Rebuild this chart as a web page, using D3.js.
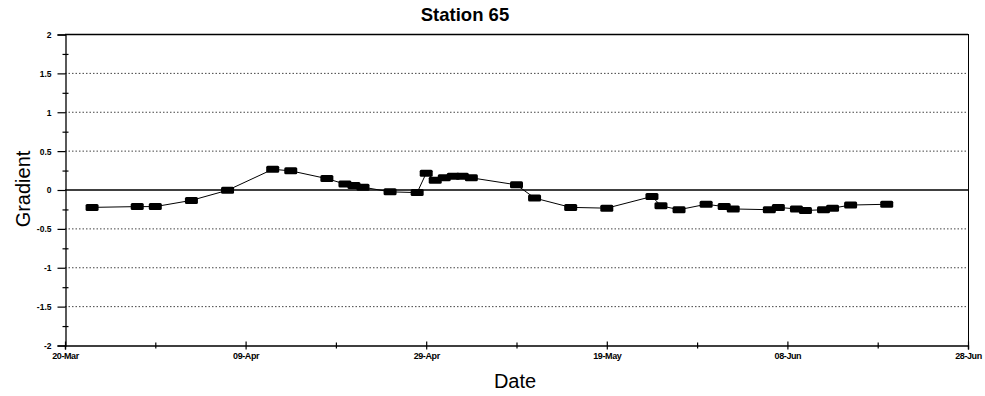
<!DOCTYPE html>
<html>
<head>
<meta charset="utf-8">
<script src="https://cdn.jsdelivr.net/npm/d3@7"></script>
<style>
  html, body { margin: 0; padding: 0; background: #fff; }
  svg { display: block; }
  text { font-family: "Liberation Sans", Arial, sans-serif; fill: #000; }
</style>
</head>
<body>
<svg id="chart" width="985" height="396"></svg>
<script>
// Gradient readings for Station 65 (sample date, gradient)
const sampleDates = [
  "2000-03-23", "2000-03-28", "2000-03-30", "2000-04-03", "2000-04-07",
  "2000-04-12", "2000-04-14", "2000-04-18", "2000-04-20", "2000-04-21",
  "2000-04-22", "2000-04-25", "2000-04-28", "2000-04-29", "2000-04-30",
  "2000-05-01", "2000-05-02", "2000-05-03", "2000-05-04", "2000-05-09",
  "2000-05-11", "2000-05-15", "2000-05-19", "2000-05-24", "2000-05-25",
  "2000-05-27", "2000-05-30", "2000-06-01", "2000-06-02", "2000-06-06",
  "2000-06-07", "2000-06-09", "2000-06-10", "2000-06-12", "2000-06-13",
  "2000-06-15", "2000-06-19"
];
const gradientValues = [
  -0.23, -0.22, -0.22, -0.14, -0.01,
   0.26,  0.24,  0.14,  0.07,  0.05,
   0.03, -0.03, -0.04,  0.21,  0.12,
   0.15,  0.17,  0.17,  0.15,  0.06,
  -0.11, -0.23, -0.24, -0.09, -0.21,
  -0.26, -0.19, -0.22, -0.25, -0.26,
  -0.23, -0.25, -0.27, -0.26, -0.24,
  -0.20, -0.19
];
const xTickDates = ["2000-03-20", "2000-04-09", "2000-04-29", "2000-05-19", "2000-06-08", "2000-06-28"];
const xMinorDates = ["2000-03-30", "2000-04-19", "2000-05-09", "2000-05-29", "2000-06-18"];
const yTickValues = [-2, -1.5, -1, -0.5, 0, 0.5, 1, 1.5, 2];
const yMinorValues = [-1.75, -1.25, -0.75, -0.25, 0.25, 0.75, 1.25, 1.75];

const parse = d3.utcParse("%Y-%m-%d");
const data = sampleDates.map((d, i) => ({ date: parse(d), value: gradientValues[i] }));

const svg = d3.select("#chart");
const plotLeft = 65, plotRight = 968, plotTop = 34, plotBottom = 345;

const x = d3.scaleUtc()
  .domain([parse(xTickDates[0]), parse(xTickDates[xTickDates.length - 1])])
  .range([plotLeft, plotRight]);
const y = d3.scaleLinear().domain([-2, 2]).range([plotBottom, plotTop]);

// horizontal grid: dotted at each half unit, solid at zero and the top
const grid = svg.append("g");
yTickValues.filter(v => v !== -2).forEach(v => {
  const solid = v === 0 || v === 2;
  grid.append("line")
    .attr("x1", plotLeft).attr("x2", plotRight)
    .attr("y1", y(v) + 0.5).attr("y2", y(v) + 0.5)
    .attr("stroke", solid ? "#000" : "#444")
    .attr("stroke-width", solid ? 1.3 : 1)
    .attr("stroke-dasharray", solid ? null : "1.5,2");
});
// right border
grid.append("line")
  .attr("x1", plotRight + 0.5).attr("x2", plotRight + 0.5)
  .attr("y1", plotTop).attr("y2", plotBottom)
  .attr("stroke", "#000").attr("stroke-width", 1);

// y axis with labelled half-unit ticks
const yAxis = svg.append("g")
  .attr("transform", `translate(${plotLeft + 0.5},0.5)`)
  .call(d3.axisLeft(y).tickValues(yTickValues).tickSize(8).tickPadding(6)
    .tickFormat(d => d3.format("")(d).replace("\u2212", "-")));
yAxis.select(".domain").attr("stroke", "#000").attr("stroke-width", 1.3);
yAxis.selectAll(".tick line").attr("stroke", "#000").attr("stroke-width", 1.2);
yAxis.selectAll(".tick text").attr("font-size", 8.5).attr("font-weight", "bold")
  .attr("dy", "0.35em");

// y minor ticks crossing the axis
const yMinor = svg.append("g")
  .attr("transform", `translate(${plotLeft + 3.5},0.5)`)
  .call(d3.axisLeft(y).tickValues(yMinorValues).tickSize(6).tickFormat(""));
yMinor.select(".domain").remove();
yMinor.selectAll(".tick line").attr("stroke", "#000").attr("stroke-width", 1.2);

// x axis along the bottom
const xAxis = svg.append("g")
  .attr("transform", `translate(0,${plotBottom + 0.5})`)
  .call(d3.axisBottom(x).tickValues(xTickDates.map(parse)).tickSize(4).tickPadding(3)
    .tickFormat(d3.utcFormat("%d-%b")));
xAxis.select(".domain").attr("stroke", "#000").attr("stroke-width", 1.3);
xAxis.selectAll(".tick line").attr("stroke", "#000").attr("stroke-width", 1.2).attr("y1", -4);
xAxis.selectAll(".tick text").attr("font-size", 9).attr("font-weight", "bold")
  .attr("letter-spacing", "-0.4");

// x minor ticks crossing the axis
const xMinor = svg.append("g")
  .attr("transform", `translate(0,${plotBottom + 0.5})`)
  .call(d3.axisBottom(x).tickValues(xMinorDates.map(parse)).tickSize(3).tickFormat(""));
xMinor.select(".domain").remove();
xMinor.selectAll(".tick line").attr("stroke", "#000").attr("stroke-width", 1.2).attr("y1", -3);

// series line and markers
const line = d3.line().x(d => x(d.date)).y(d => y(d.value));
svg.append("path")
  .datum(data)
  .attr("d", line)
  .attr("fill", "none")
  .attr("stroke", "#000")
  .attr("stroke-width", 1);

const mw = 13, mh = 7;
svg.append("g").selectAll("rect")
  .data(data)
  .join("rect")
  .attr("x", d => x(d.date) - mw / 2)
  .attr("y", d => y(d.value) - mh / 2)
  .attr("width", mw)
  .attr("height", mh)
  .attr("rx", 1.5)
  .attr("fill", "#000");

// titles
svg.append("text")
  .attr("x", 465).attr("y", 21)
  .attr("text-anchor", "middle")
  .attr("font-size", 18.5).attr("font-weight", "bold")
  .text("Station 65");

svg.append("text")
  .attr("x", 515).attr("y", 388)
  .attr("text-anchor", "middle")
  .attr("font-size", 20)
  .text("Date");

svg.append("text")
  .attr("transform", "translate(30,189) rotate(-90)")
  .attr("text-anchor", "middle")
  .attr("font-size", 20)
  .text("Gradient");
</script>
</body>
</html>
